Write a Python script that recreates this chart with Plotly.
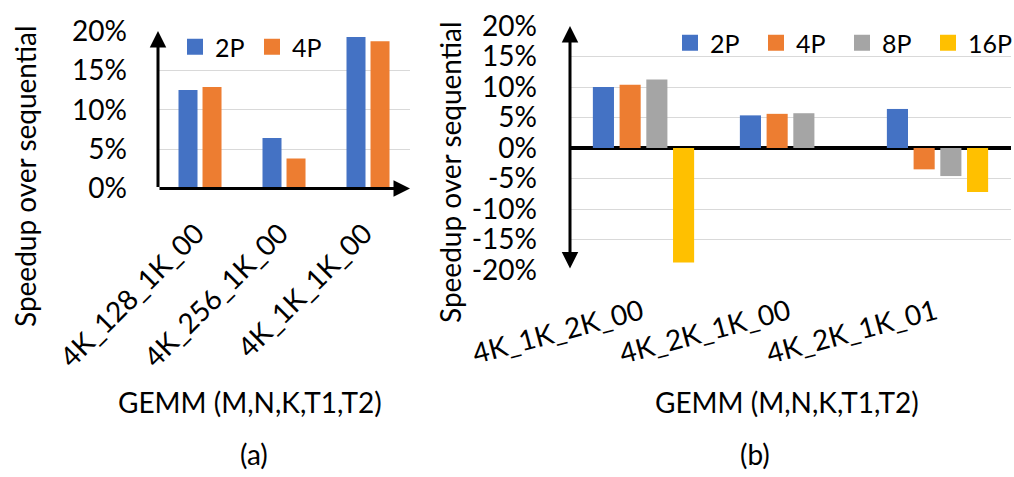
import plotly.graph_objects as go

# ---------------- data ----------------
cats_a = ["4K_128_1K_00", "4K_256_1K_00", "4K_1K_1K_00"]
a_2p = [12.5, 6.4, 19.25]
a_4p = [12.9, 3.8, 18.7]

cats_b = ["4K_1K_2K_00", "4K_2K_1K_00", "4K_2K_1K_01"]
b_2p = [10.0, 5.35, 6.4]
b_4p = [10.35, 5.6, -3.5]
b_8p = [11.25, 5.7, -4.6]
b_16p = [-18.75, 0.0, -7.2]

yticks_a = [0, 5, 10, 15, 20]
yticks_b = [-20, -15, -10, -5, 0, 5, 10, 15, 20]

C2, C4, C8, C16 = "#4472C4", "#ED7D31", "#A5A5A5", "#FFC000"
FONT = "Lato"
W, H = 1014, 477


def px_x(p):
    return p / W


def px_y(p):
    return 1 - p / H


fig = go.Figure()

# left panel bars (explicit widths so both panels can have their own spacing)
wa = 19 / 84
fig.add_trace(go.Bar(x=cats_a, y=a_2p, name="2P", marker=dict(color=C2, line=dict(width=0)),
                     width=wa, offset=-0.256, xaxis="x", yaxis="y", showlegend=False))
fig.add_trace(go.Bar(x=cats_a, y=a_4p, name="4P", marker=dict(color=C4, line=dict(width=0)),
                     width=wa, offset=0.03, xaxis="x", yaxis="y", showlegend=False))

series_b = [("2P", b_2p, C2), ("4P", b_4p, C4), ("8P", b_8p, C8), ("16P", b_16p, C16)]
for name, vals, col in series_b:
    fig.add_trace(go.Bar(x=cats_b, y=vals, name=name,
                         marker=dict(color=col, line=dict(width=0)),
                         xaxis="x2", yaxis="y2", showlegend=False))

# legend entries (square swatches, larger than Plotly's default bar swatch)
for name, col in [("2P", C2), ("4P", C4)]:
    fig.add_trace(go.Scatter(x=[None], y=[None], mode="markers", name=name,
                             marker=dict(symbol="square", size=18, color=col),
                             xaxis="x", yaxis="y", legend="legend", hoverinfo="skip"))
for name, _, col in series_b:
    fig.add_trace(go.Scatter(x=[None], y=[None], mode="markers", name=name,
                             marker=dict(symbol="square", size=18, color=col),
                             xaxis="x2", yaxis="y2", legend="legend2", hoverinfo="skip"))

tickfont = dict(family=FONT, size=28, color="black")
legfont = dict(family=FONT, size=25, color="black")

fig.update_layout(
    width=W, height=H,
    margin=dict(l=0, r=0, t=0, b=0, autoexpand=False),
    paper_bgcolor="white", plot_bgcolor="white",
    barmode="group", bargap=0.273, bargroupgap=0.21,
    font=dict(family=FONT, color="black"),
    xaxis=dict(domain=[px_x(158), px_x(410)], anchor="y", showline=False, showgrid=False, automargin=False,
               zeroline=False, tickangle=-45, tickfont=tickfont, ticks="",
               ticklabelstandoff=22, ticklabelshift=-4),
    yaxis=dict(domain=[px_y(188.5), px_y(31)], anchor="x", range=[0, 20], tickvals=yticks_a, automargin=False,
               ticktext=[f"{v}%" for v in yticks_a], showgrid=True, gridcolor="#d9d9d9", gridwidth=1,
               zeroline=False, showline=False, tickfont=tickfont, ticklabelstandoff=30),
    xaxis2=dict(domain=[px_x(570), px_x(1011)], anchor="y2", showline=False, showgrid=False, automargin=False,
                zeroline=False, tickangle=-15, tickfont=tickfont, ticks="",
                ticklabelstandoff=20, ticklabelshift=-2),
    yaxis2=dict(domain=[px_y(270), px_y(26)], anchor="x2", range=[-20, 20], tickvals=yticks_b, automargin=False,
                ticktext=[f"{v}%" for v in yticks_b], showgrid=True, gridcolor="#d9d9d9", gridwidth=1,
                zeroline=True, zerolinecolor="black", zerolinewidth=4, showline=False,
                tickfont=tickfont, ticklabelstandoff=32),
    legend=dict(orientation="h", x=px_x(175), y=px_y(24), xanchor="left", yanchor="top",
                font=legfont, bgcolor="rgba(0,0,0,0)", entrywidth=32, entrywidthmode="pixels",
                traceorder="normal"),
    legend2=dict(orientation="h", x=1, y=px_y(20), xanchor="right", yanchor="top",
                 font=legfont, bgcolor="rgba(0,0,0,0)", entrywidth=41, entrywidthmode="pixels",
                 traceorder="normal"),
)

ann = []
arrow = dict(showarrow=True, arrowhead=2, arrowsize=1.1, arrowwidth=3, arrowcolor="black", text="")
# left y axis (arrow up)
ann.append(dict(xref="x domain", yref="y domain", axref="x domain", ayref="y domain",
                x=0, y=1, ax=0, ay=0, **arrow))
# left x axis (arrow right)
ann.append(dict(xref="x domain", yref="y domain", axref="x domain", ayref="y domain",
                x=1, y=0, ax=0, ay=0, **arrow))
# right y axis (double arrow)
ann.append(dict(xref="x2 domain", yref="y2 domain", axref="x2 domain", ayref="y2 domain",
                x=0, y=1, ax=0, ay=0, arrowside="end+start", **arrow))

# axis titles and panel labels
title_font = dict(family=FONT, size=28, color="black")
ann.append(dict(xref="paper", yref="paper", x=px_x(25), y=px_y(176), text="Speedup over sequential",
                showarrow=False, textangle=-90, font=title_font, xanchor="center", yanchor="middle"))
ann.append(dict(xref="paper", yref="paper", x=px_x(450), y=px_y(172), text="Speedup over sequential",
                showarrow=False, textangle=-90, font=title_font, xanchor="center", yanchor="middle"))
ann.append(dict(xref="paper", yref="paper", x=px_x(250), y=px_y(402), text="GEMM (M,N,K,T1,T2)",
                showarrow=False, font=title_font, xanchor="center", yanchor="middle"))
ann.append(dict(xref="paper", yref="paper", x=px_x(787), y=px_y(402), text="GEMM (M,N,K,T1,T2)",
                showarrow=False, font=title_font, xanchor="center", yanchor="middle"))
ann.append(dict(xref="paper", yref="paper", x=px_x(254), y=px_y(454), text="(a)",
                showarrow=False, font=title_font, xanchor="center", yanchor="middle"))
ann.append(dict(xref="paper", yref="paper", x=px_x(755), y=px_y(454), text="(b)",
                showarrow=False, font=title_font, xanchor="center", yanchor="middle"))

fig.update_layout(annotations=ann)
fig.write_html("out.html", config={"displayModeBar": False},
               post_script="document.body.style.margin='0';document.body.style.overflow='hidden';")
